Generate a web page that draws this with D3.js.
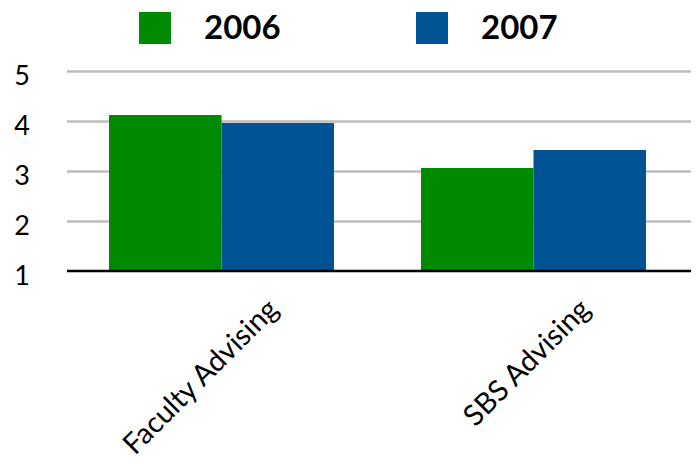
<!DOCTYPE html>
<html>
<head>
<meta charset="utf-8">
<script src="https://cdn.jsdelivr.net/npm/d3@7"></script>
<style>
  body { margin: 0; background: #fff; }
</style>
</head>
<body>
<div class="bar-chart"></div>
<script>
const categories = ['Faculty Advising', 'SBS Advising'];
const seriesNames = ['2006', '2007'];
const values2006 = [4.12, 3.06];
const values2007 = [3.96, 3.42];
const yTicks = [1, 2, 3, 4, 5];
const colors = ['#008a00', '#005494'];

const width = 696;
const height = 467;
const plot = { left: 67, right: 691, top: 71, bottom: 271 };

const svg = d3
  .select('.bar-chart')
  .append('svg')
  .attr('width', width)
  .attr('height', height);

const x0 = d3.scaleBand().domain(categories).range([plot.left, plot.right]);
const x1 = d3.scaleBand().domain(seriesNames).range([42, 267]);
const yScale = d3.scaleLinear().domain([1, 5]).range([plot.bottom, plot.top]);

const rows = categories.map((c, i) => ({
  category: c,
  values: [
    { key: seriesNames[0], value: values2006[i] },
    { key: seriesNames[1], value: values2007[i] },
  ],
}));

// gridlines + y labels
const yAxis = d3
  .axisLeft(yScale)
  .tickValues(yTicks)
  .tickSize(-(plot.right - plot.left))
  .tickFormat(d3.format('d'));

const yAxisGroup = svg
  .append('g')
  .attr('transform', `translate(${plot.left}, 0)`)
  .call(yAxis);

yAxisGroup.select('.domain').remove();
yAxisGroup
  .selectAll('.tick line')
  .attr('stroke', (d) => (d === 1 ? 'none' : '#bdbdbd'))
  .attr('stroke-width', 2.5);
yAxisGroup
  .selectAll('.tick text')
  .attr('x', 22 - plot.left)
  .attr('dy', '0.5em')
  .attr('text-anchor', 'middle')
  .style('font-family', 'Lato, sans-serif')
  .style('font-size', '27px')
  .style('fill', '#000');

// bars
const groups = svg
  .selectAll('.cat')
  .data(rows)
  .enter()
  .append('g')
  .attr('class', 'cat')
  .attr('transform', (d) => `translate(${x0(d.category)}, 0)`);

groups
  .selectAll('rect')
  .data((d) => d.values)
  .enter()
  .append('rect')
  .attr('x', (d) => x1(d.key))
  .attr('width', x1.bandwidth())
  .attr('y', (d) => yScale(d.value))
  .attr('height', (d) => yScale(1) - yScale(d.value))
  .attr('fill', (d, i) => colors[i]);

// baseline
svg
  .append('line')
  .attr('x1', plot.left)
  .attr('x2', plot.right)
  .attr('y1', yScale(1))
  .attr('y2', yScale(1))
  .attr('stroke', '#000')
  .attr('stroke-width', 2.5);

// category labels
const xAxis = d3.axisBottom(x0).tickSize(0).tickPadding(0);
const xAxisGroup = svg
  .append('g')
  .attr('transform', `translate(0, ${plot.bottom})`)
  .call(xAxis);
xAxisGroup.select('.domain').remove();
xAxisGroup
  .selectAll('.tick text')
  .attr('text-anchor', 'end')
  .attr('dy', 0)
  .attr('y', 0)
  .attr('transform', 'translate(57, 40) rotate(-45)')
  .style('font-family', 'Lato, sans-serif')
  .style('font-size', '29px')
  .style('fill', '#000');

// legend
const legendX = [139, 416];
const legend = svg
  .selectAll('.legend')
  .data(seriesNames)
  .enter()
  .append('g')
  .attr('class', 'legend')
  .attr('transform', (d, i) => `translate(${legendX[i]}, 12)`);

legend
  .append('rect')
  .attr('width', 32)
  .attr('height', 32)
  .attr('fill', (d, i) => colors[i]);

legend
  .append('text')
  .attr('x', 65)
  .attr('y', 27)
  .text((d) => d)
  .style('font-family', 'Lato, sans-serif')
  .style('font-weight', '700')
  .style('font-size', '33px')
  .style('fill', '#000');
</script>
</body>
</html>
